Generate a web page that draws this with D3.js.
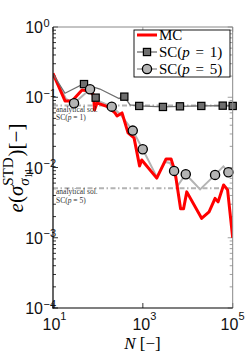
<!DOCTYPE html>
<html>
<head>
<meta charset="utf-8">
<script src="https://cdn.jsdelivr.net/npm/d3@7"></script>
<style>
  body { margin: 0; background: #fff; }
  svg { display: block; }
  .serif { font-family: "Liberation Serif", "DejaVu Serif", serif; }
  .sans { font-family: "Liberation Sans", Arial, sans-serif; }
</style>
</head>
<body>
<svg id="chart" width="245" height="354"></svg>
<script>
// Monte Carlo error curve
const mcN = [10, 18.5, 26.5, 44.3, 63.4, 79.8, 84, 95.5, 168, 240, 266, 344, 468, 637, 845, 945,
  2040, 3290, 4250, 5210, 6920, 8060, 9500, 20300, 29800, 40500, 47300, 62700, 76900, 100000];
const mcErr = [0.218, 0.0886, 0.0886, 0.127, 0.123, 0.108, 0.066, 0.083, 0.0728, 0.0598, 0.0542, 0.0598,
  0.0311, 0.0264, 0.01054, 0.0128, 0.00705, 0.01325, 0.01325, 0.00865, 0.00258, 0.00258, 0.0045,
  0.00189, 0.00234, 0.00363, 0.00324, 0.00565, 0.0048, 0.000997];

// SC(p = 1) line and markers
const p1N = [10, 18.5, 47.3, 111, 295, 387, 519, 830, 2800, 6700, 20000, 60000, 100000];
const p1Err = [0.214, 0.114, 0.155, 0.131, 0.0961, 0.102, 0.0777, 0.0752, 0.0728, 0.0743, 0.0752, 0.0759, 0.0752];
const p1MarkN = [49, 89, 387, 830, 2800, 6700, 20000, 60000, 100000];
const p1MarkErr = [0.154, 0.0987, 0.102, 0.0752, 0.0728, 0.0743, 0.0752, 0.0759, 0.0752];

// SC(p = 5) line and markers
const p5N = [10, 19.5, 29.4, 66.7, 90.8, 203, 310, 596, 995, 2040, 3120, 4030, 4960, 5930, 9020,
  18800, 40500, 62100, 80200, 100000];
const p5Err = [0.218, 0.0946, 0.0822, 0.13, 0.0916, 0.0735, 0.0579, 0.0335, 0.0182, 0.00735, 0.012,
  0.0116, 0.00895, 0.00547, 0.00803, 0.00488, 0.00785, 0.01037, 0.00857, 0.0083];
const p5MarkN = [29.4, 66.7, 203, 596, 995, 4960, 9020, 40500, 80200];
const p5MarkErr = [0.0822, 0.13, 0.0735, 0.0335, 0.0182, 0.00895, 0.00803, 0.00785, 0.00857];

// analytical solutions
const analyticLabels = ["SC(p = 1)", "SC(p = 5)"];
const analyticErr = [0.076, 0.00507];

const yTicks = [1, 1e-1, 1e-2, 1e-3, 1e-4];
const yTickExp = ["0", "\u22121", "\u22122", "\u22123", "\u22124"];
const xTicks = [10, 1e3, 1e5];
const xTickExp = ["1", "3", "5"];

const W = 245, H = 354;
const margin = { top: 27, right: 12.3, bottom: 46, left: 53 };

const svg = d3.select("#chart");

const x = d3.scaleLog().domain([10, 1e5]).range([margin.left, W - margin.right]);
const y = d3.scaleLog().domain([1e-4, 1]).range([H - margin.bottom, margin.top]);

const zip = (a, b) => a.map((v, i) => [v, b[i]]);

svg.append("clipPath").attr("id", "clip")
  .append("rect")
  .attr("x", margin.left).attr("y", margin.top)
  .attr("width", x.range()[1] - margin.left)
  .attr("height", y.range()[0] - margin.top);

// minor + major ticks for log y
const yMinor = [];
for (let e = -4; e < 0; e++) for (let m = 2; m <= 9; m++) yMinor.push(m * Math.pow(10, e));

const axes = svg.append("g");
const drawTicks = (vals, len, sel, dir) => {
  sel.selectAll(null).data(vals).enter().append("line")
    .attr("x1", d => dir === "y" ? sel.datum().x : x(d))
    .attr("x2", d => dir === "y" ? sel.datum().x + sel.datum().s * len : x(d))
    .attr("y1", d => dir === "y" ? y(d) : sel.datum().y)
    .attr("y2", d => dir === "y" ? y(d) : sel.datum().y + sel.datum().s * len);
};
const leftT = axes.append("g").datum({ x: margin.left, s: 1 }).attr("stroke", "#000").attr("stroke-width", 0.8);
drawTicks(yTicks, 5, leftT, "y");
drawTicks(yMinor, 3, leftT, "y");
const rightT = axes.append("g").datum({ x: x.range()[1], s: -1 }).attr("stroke", "#888").attr("stroke-width", 0.8);
drawTicks(yTicks, 5, rightT, "y");
drawTicks(yMinor, 3, rightT, "y");
const botT = axes.append("g").datum({ y: y.range()[0], s: -1 }).attr("stroke", "#000").attr("stroke-width", 0.8);
drawTicks(xTicks, 5, botT, "x");
const topT = axes.append("g").datum({ y: margin.top, s: 1 }).attr("stroke", "#888").attr("stroke-width", 0.8);
drawTicks(xTicks, 5, topT, "x");

const plot = svg.append("g").attr("clip-path", "url(#clip)");

// analytical dash-dot lines
plot.selectAll(".ana").data(analyticErr).enter().append("line")
  .attr("x1", x(10)).attr("x2", x(1e5))
  .attr("y1", d => y(d)).attr("y2", d => y(d))
  .attr("stroke", "#b3b3b3").attr("stroke-width", 2)
  .attr("stroke-dasharray", "5,2.5,1.5,2.5");

const line = d3.line().x(d => x(d[0])).y(d => y(d[1]));

plot.append("path").datum(zip(p5N, p5Err)).attr("d", line)
  .attr("fill", "none").attr("stroke", "#b4b4b4").attr("stroke-width", 2);
plot.append("path").datum(zip(mcN, mcErr)).attr("d", line)
  .attr("fill", "none").attr("stroke", "#ff0000").attr("stroke-width", 3).attr("stroke-linejoin", "round");
plot.append("path").datum(zip(p1N, p1Err)).attr("d", line)
  .attr("fill", "none").attr("stroke", "#6e6e6e").attr("stroke-width", 1.3);

svg.append("g").selectAll("rect").data(zip(p1MarkN, p1MarkErr)).enter().append("rect")
  .attr("x", d => x(d[0]) - 3.6).attr("y", d => y(d[1]) - 3.6)
  .attr("width", 7.2).attr("height", 7.2)
  .attr("fill", "#6e6e6e").attr("stroke", "#000").attr("stroke-width", 1.2);
svg.append("g").selectAll("circle").data(zip(p5MarkN, p5MarkErr)).enter().append("circle")
  .attr("cx", d => x(d[0])).attr("cy", d => y(d[1])).attr("r", 4.6)
  .attr("fill", "#b4b4b4").attr("stroke", "#000").attr("stroke-width", 1.3);

// annotations
const ann = svg.append("g").attr("class", "serif").style("font-size", "7.5px").attr("fill", "#333");
analyticErr.forEach((v, i) => {
  ann.append("text").attr("x", 56).attr("y", y(v) + 6).text("analytical sol.");
  const t = ann.append("text").attr("x", 56).attr("y", y(v) + 14.5);
  t.append("tspan").text("SC(");
  t.append("tspan").style("font-style", "italic").text("p");
  t.append("tspan").text(analyticLabels[i].slice(4));
});

// box
svg.append("line").attr("x1", margin.left).attr("x2", x.range()[1])
  .attr("y1", margin.top).attr("y2", margin.top).attr("stroke", "#888");
svg.append("line").attr("x1", x.range()[1]).attr("x2", x.range()[1])
  .attr("y1", margin.top).attr("y2", y.range()[0]).attr("stroke", "#888");
svg.append("line").attr("x1", margin.left).attr("x2", margin.left)
  .attr("y1", margin.top).attr("y2", y.range()[0] + 0.5).attr("stroke", "#000").attr("stroke-width", 1.2);
svg.append("line").attr("x1", margin.left - 0.5).attr("x2", x.range()[1])
  .attr("y1", y.range()[0]).attr("y2", y.range()[0]).attr("stroke", "#000").attr("stroke-width", 1.2);

// tick labels
const yl = svg.append("g").attr("class", "sans").attr("fill", "#111");
yTicks.forEach((v, i) => {
  yl.append("text").attr("x", 43).attr("y", y(v) + 6).attr("text-anchor", "end")
    .style("font-size", "16px").text("10");
  yl.append("text").attr("x", 43.5).attr("y", y(v) - 0.5)
    .style("font-size", "11px").text(yTickExp[i]);
});
xTicks.forEach((v, i) => {
  const t = yl.append("text").attr("x", x(v) + 1.5).attr("y", 330).attr("text-anchor", "middle")
    .style("font-size", "16px");
  t.append("tspan").text("10");
  t.append("tspan").attr("dy", -10).style("font-size", "11px").text(xTickExp[i]);
  // keep the last label inside the page
  const w = t.node().getComputedTextLength();
  if (x(v) + 1.5 + w / 2 > W - 0.5) t.attr("x", W - 0.5 - w / 2);
});

// x label
const xl = svg.append("text").attr("class", "serif").attr("x", 142.5).attr("y", 349)
  .attr("text-anchor", "middle").style("font-size", "17px");
xl.append("tspan").style("font-style", "italic").text("N");
xl.append("tspan").text(" [\u2212]");

// y label built piece by piece so sub/superscripts can stack
const yLab = svg.append("g").attr("class", "serif");
let cx = 0;
const piece = (str, size, dy, italic) => {
  const t = yLab.append("text").attr("x", cx).attr("y", dy).style("font-size", size + "px").text(str);
  if (italic) t.style("font-style", "italic");
  return t.node().getComputedTextLength();
};
cx += piece("e", 21, 0, true);
cx += piece("(", 21, 0, false);
cx += piece("\u03c3", 21, 0, true);
const wSup = piece("STD", 15, -10, false);
const ws1 = piece("\u03c3", 15, 6, true);
cx += ws1;
const ws2 = piece("11", 11, 9, false);
cx = cx - ws1 + Math.max(wSup, ws1 + ws2) + 1;
cx += piece(")", 21, 0, false);
cx += piece(" [\u2212]", 21, 0, false);
yLab.attr("transform", `translate(23,${168 + cx / 2}) rotate(-90)`);

// legend
const lg = svg.append("g");
lg.append("rect").attr("x", 134).attr("y", 30).attr("width", 96).attr("height", 47)
  .attr("fill", "#fff").attr("stroke", "#000").attr("stroke-width", 0.9);
const legendItems = ["MC", "SC(p = 1)", "SC(p = 5)"];
const legendY = [35, 52, 69];
legendItems.forEach((name, i) => {
  const cy = legendY[i];
  const col = ["#ff0000", "#6e6e6e", "#b4b4b4"][i];
  lg.append("line").attr("x1", 137).attr("x2", 157).attr("y1", cy).attr("y2", cy)
    .attr("stroke", col).attr("stroke-width", i === 0 ? 3 : (i === 1 ? 1.3 : 2));
  if (i === 1) lg.append("rect").attr("x", 147 - 3.6).attr("y", cy - 3.6).attr("width", 7.2).attr("height", 7.2)
    .attr("fill", "#6e6e6e").attr("stroke", "#000").attr("stroke-width", 1.2);
  if (i === 2) lg.append("circle").attr("cx", 147).attr("cy", cy).attr("r", 4.6)
    .attr("fill", "#b4b4b4").attr("stroke", "#000").attr("stroke-width", 1.3);
  const t = lg.append("text").attr("class", "serif").attr("x", 159).attr("y", cy + 5)
    .style("font-size", "15px").style("word-spacing", "2px");
  if (i === 0) t.text(name);
  else {
    t.append("tspan").text("SC(");
    t.append("tspan").style("font-style", "italic").text("p");
    t.append("tspan").text(name.slice(4));
  }
});
</script>
</body>
</html>
